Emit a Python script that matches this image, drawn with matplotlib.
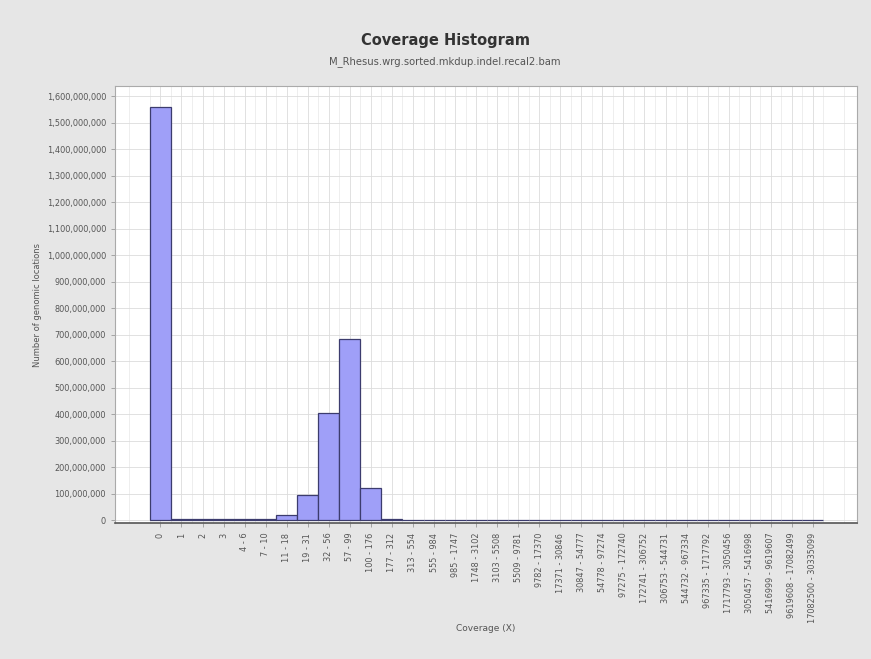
import matplotlib.pyplot as plt
from matplotlib.ticker import FuncFormatter

# coverage bins (X) and number of locations per bin
bins = ['0', '1', '2', '3', '4 - 6', '7 - 10', '11 - 18', '19 - 31', '32 - 56',
        '57 - 99', '100 - 176', '177 - 312', '313 - 554', '555 - 984',
        '985 - 1747', '1748 - 3102', '3103 - 5508', '5509 - 9781',
        '9782 - 17370', '17371 - 30846', '30847 - 54777', '54778 - 97274',
        '97275 - 172740', '172741 - 306752', '306753 - 544731',
        '544732 - 967334', '967335 - 1717792', '1717793 - 3050456',
        '3050457 - 5416998', '5416999 - 9619607', '9619608 - 17082499',
        '17082500 - 30335099']
counts = [1558000000, 3000000, 2500000, 2500000, 3500000, 5000000, 19000000,
          95000000, 405000000, 684000000, 121000000, 4500000, 2000000,
          1000000, 600000, 400000, 300000, 200000, 150000, 100000, 80000,
          60000, 40000, 30000, 20000, 10000, 8000, 5000, 3000, 2000, 1000, 500]

bg = '#e6e6e6'
fig = plt.figure(figsize=(8.71, 6.59), dpi=100, facecolor=bg)
ax = fig.add_axes([0.132, 0.2064, 0.852, 0.6631])
ax.set_facecolor('white')

x = range(len(bins))
ax.bar(x, counts, width=1.0, color='#9f9ff8', edgecolor='#3c3c6e', linewidth=0.9, zorder=3)

ax.set_xlim(-2.16, len(bins) - 1 + 2.1)
ax.set_ylim(-11000000, 1638000000)
ax.set_yticks(range(0, 1600000001, 100000000))
ax.yaxis.set_major_formatter(FuncFormatter(lambda v, p: '{:,}'.format(int(v))))
ax.set_xticks(list(x))
ax.set_xticklabels(bins, rotation=90, va='top', ha='center')
ax.set_xticks([i + 0.5 for i in range(-2, len(bins) + 1)], minor=True)

ax.grid(True, which='major', color='#dcdcdc', linewidth=0.6, zorder=0)
ax.grid(True, which='minor', axis='x', color='#e8e8e8', linewidth=0.5, zorder=0)
ax.tick_params(axis='both', which='major', labelsize=5.9, labelcolor='#555555',
               color='#999999', length=3, width=0.6)
ax.tick_params(axis='x', which='minor', length=0)
ax.tick_params(axis='x', pad=4)

for s in ['top', 'right', 'left']:
    ax.spines[s].set_color('#aaaaaa')
    ax.spines[s].set_linewidth(0.8)
ax.spines['bottom'].set_color('#555555')
ax.spines['bottom'].set_linewidth(1.2)

fig.text(0.511, 0.938, 'Coverage Histogram', ha='center', va='center',
         fontsize=10.5, fontweight='bold', color='#333333')
fig.text(0.511, 0.906, 'M_Rhesus.wrg.sorted.mkdup.indel.recal2.bam', ha='center',
         va='center', fontsize=7.2, color='#555555')
fig.text(0.043, 0.537, 'Number of genomic locations', rotation=90, ha='center',
         va='center', fontsize=6, color='#555555')
fig.text(0.558, 0.047, 'Coverage (X)', ha='center', va='center',
         fontsize=6.5, color='#555555')

fig.savefig('out.png', dpi=100, facecolor=bg)
